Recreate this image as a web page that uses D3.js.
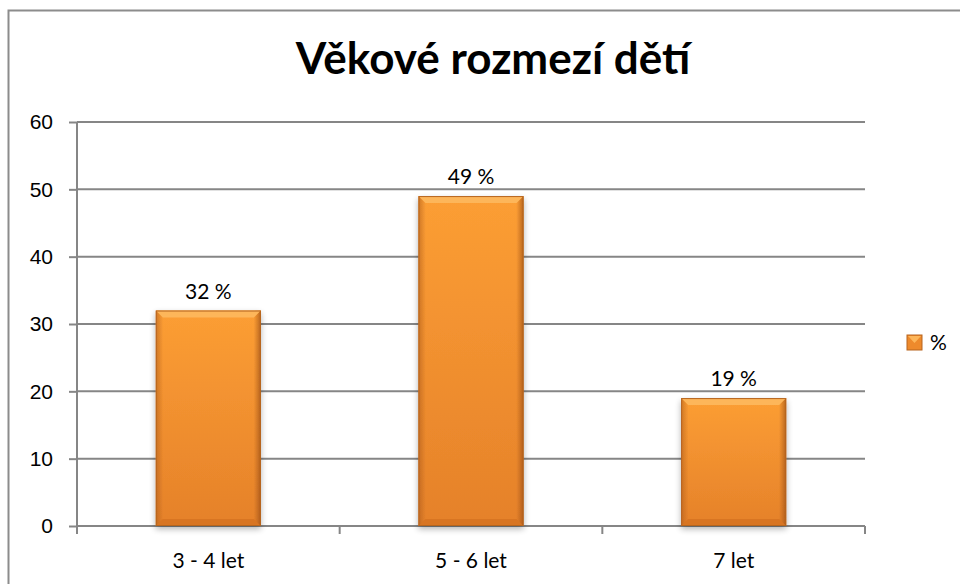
<!DOCTYPE html>
<html>
<head>
<meta charset="utf-8">
<script src="https://cdn.jsdelivr.net/npm/d3@7"></script>
<style>
  body { margin: 0; background: #fff; }
  svg { display: block; font-family: Lato, "Noto Sans", sans-serif; }
  .axis text { font-size: 21px; fill: #000; }
  .axis path, .axis line { stroke: #868686; stroke-width: 2; }
  .grid line { stroke: #868686; stroke-width: 2; }
</style>
</head>
<body>
<svg id="chart" width="960" height="584"></svg>
<script>
const title = 'Věkové rozmezí dětí';
const categories = ['3 - 4 let', '5 - 6 let', '7 let'];
const values = [32, 49, 19];
const labels = ['32 %', '49 %', '19 %'];
const seriesName = '%';
const yTicks = [0, 10, 20, 30, 40, 50, 60];

const chartSize = { width: 960, height: 584 };
const margin = { left: 77, right: 95, top: 122, bottom: 58 };
const width = chartSize.width - margin.left - margin.right;
const height = chartSize.height - margin.top - margin.bottom;

const svg = d3.select('#chart');

// outer frame (only top + left edges are visible in the original)
svg.append('path')
    .attr('d', 'M8.5,584 V10.5 H960')
    .attr('fill', 'none')
    .attr('stroke', '#8c8c8c')
    .attr('stroke-width', 2);

const defs = svg.append('defs');
const grad = defs.append('linearGradient').attr('id', 'barFill')
    .attr('x1', 0).attr('x2', 0).attr('y1', 0).attr('y2', 1);
grad.append('stop').attr('offset', '0%').attr('stop-color', '#fc9e34');
grad.append('stop').attr('offset', '100%').attr('stop-color', '#e5812a');

const side = defs.append('linearGradient').attr('id', 'barSide')
    .attr('x1', 0).attr('x2', 1).attr('y1', 0).attr('y2', 0);
side.append('stop').attr('offset', '0%').attr('stop-color', '#a4541a').attr('stop-opacity', 0.5);
side.append('stop').attr('offset', '7%').attr('stop-color', '#a4541a').attr('stop-opacity', 0);
side.append('stop').attr('offset', '93%').attr('stop-color', '#a4541a').attr('stop-opacity', 0);
side.append('stop').attr('offset', '100%').attr('stop-color', '#8e4512').attr('stop-opacity', 0.65);

const shadow = defs.append('filter').attr('id', 'shadow')
    .attr('x', '-10%').attr('y', '-10%').attr('width', '120%').attr('height', '120%');
shadow.append('feGaussianBlur').attr('in', 'SourceAlpha').attr('stdDeviation', 3);
shadow.append('feOffset').attr('dx', 0).attr('dy', 3).attr('result', 'b');
shadow.append('feComponentTransfer').append('feFuncA').attr('type', 'linear').attr('slope', 0.3);
const merge = shadow.append('feMerge');
merge.append('feMergeNode');
merge.append('feMergeNode').attr('in', 'SourceGraphic');

svg.append('text')
    .attr('x', 493)
    .attr('y', 74)
    .attr('text-anchor', 'middle')
    .attr('font-size', 44)
    .attr('font-weight', 'bold')
    .text(title);

const g = svg.append('g')
    .attr('transform', `translate(${margin.left},${margin.top})`);

const x = d3.scaleBand()
    .domain(categories)
    .range([0, width])
    .paddingInner(0.6)
    .paddingOuter(0.3);

const y = d3.scaleLinear()
    .domain([0, 60])
    .range([height, 0]);

g.append('g')
    .attr('class', 'grid')
    .selectAll('line')
    .data(yTicks.filter(d => d > 0))
    .enter()
    .append('line')
    .attr('x1', 0)
    .attr('x2', width)
    .attr('y1', d => y(d))
    .attr('y2', d => y(d));

const y_axis = d3.axisLeft(y).tickValues(yTicks).tickSize(8).tickPadding(16);
const yg = g.append('g').attr('class', 'axis').call(y_axis);
yg.select('.domain').attr('d', `M0,${height}V0`);

// category separators as in the original
const xBounds = d3.range(categories.length + 1).map(i => i * width / categories.length);
const xg = g.append('g')
    .attr('class', 'axis')
    .attr('transform', `translate(0,${height})`);
xg.append('path').attr('d', `M0,0H${width}`);
xg.selectAll('line.sep')
    .data(xBounds)
    .enter()
    .append('line')
    .attr('x1', d => d).attr('x2', d => d)
    .attr('y1', 0).attr('y2', 8);
xg.selectAll('text')
    .data(categories)
    .enter()
    .append('text')
    .attr('x', d => x(d) + x.bandwidth() / 2)
    .attr('y', 42)
    .attr('text-anchor', 'middle')
    .text(d => d);

const bar = g.selectAll('.bar')
    .data(values)
    .enter()
    .append('g')
    .attr('class', 'bar')
    .attr('filter', 'url(#shadow)');

bar.append('rect')
    .attr('x', (v, i) => x(categories[i]))
    .attr('y', v => y(v))
    .attr('width', x.bandwidth())
    .attr('height', v => y(0) - y(v))
    .attr('fill', 'url(#barFill)');

bar.append('rect')
    .attr('x', (v, i) => x(categories[i]))
    .attr('y', v => y(v))
    .attr('width', x.bandwidth())
    .attr('height', v => y(0) - y(v))
    .attr('fill', 'url(#barSide)');

// bevel top
bar.append('path')
    .attr('d', (v, i) => {
        const x0 = x(categories[i]), x1 = x0 + x.bandwidth(), t = y(v), b = 7;
        return `M${x0},${t}H${x1}L${x1 - b},${t + b}H${x0 + b}Z`;
    })
    .attr('fill', '#fdb65a');

// bevel bottom
bar.append('path')
    .attr('d', (v, i) => {
        const x0 = x(categories[i]), x1 = x0 + x.bandwidth(), bt = y(0), b = 7;
        return `M${x0},${bt}H${x1}L${x1 - b},${bt - b}H${x0 + b}Z`;
    })
    .attr('fill', '#d87522');

bar.append('rect')
    .attr('x', (v, i) => x(categories[i]) + 0.5)
    .attr('y', v => y(v) + 0.5)
    .attr('width', x.bandwidth() - 1)
    .attr('height', v => y(0) - y(v) - 1)
    .attr('fill', 'none')
    .attr('stroke', '#b7651f')
    .attr('stroke-width', 1);

g.selectAll('.label')
    .data(values)
    .enter()
    .append('text')
    .attr('class', 'label')
    .attr('x', (v, i) => x(categories[i]) + x.bandwidth() / 2)
    .attr('y', v => y(v) - 12)
    .attr('text-anchor', 'middle')
    .attr('font-size', 21)
    .text((v, i) => labels[i]);

// legend
const legend = svg.append('g').attr('transform', 'translate(907,335)');
legend.append('rect').attr('width', 15).attr('height', 15).attr('fill', '#ee8a2c')
    .attr('stroke', '#b7651f');
legend.append('path').attr('d', 'M1,1H14L7.5,8Z').attr('fill', '#fdb65a');
legend.append('text').attr('x', 23).attr('y', 15).attr('font-size', 21).text(seriesName);
</script>
</body>
</html>
